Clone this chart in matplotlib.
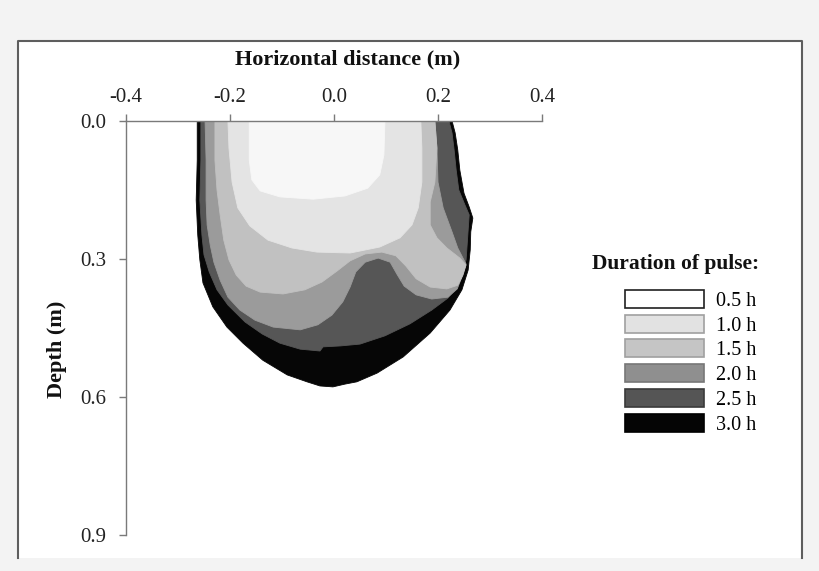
import matplotlib
matplotlib.use("Agg")
import matplotlib.pyplot as plt
from matplotlib.patches import Rectangle, Patch
from matplotlib.lines import Line2D

plt.rcParams['font.family'] = ['Liberation Serif', 'DejaVu Serif']

# ---- data: wetting-front outlines (x in m, depth in m) for each pulse duration ----
durations = ['0.5 h', '1.0 h', '1.5 h', '2.0 h', '2.5 h', '3.0 h']

x_30 = [-0.263, -0.263, -0.265, -0.262, -0.258, -0.252, -0.233, -0.206, -0.175, -0.137,
        -0.090, -0.052, -0.027, -0.002, 0.021, 0.044, 0.083, 0.133, 0.185, 0.223,
        0.246, 0.258, 0.262, 0.263, 0.267, 0.260, 0.250, 0.242, 0.238, 0.233, 0.227]
d_30 = [0.000, 0.085, 0.172, 0.248, 0.302, 0.352, 0.404, 0.448, 0.483, 0.520,
        0.552, 0.567, 0.576, 0.578, 0.572, 0.567, 0.548, 0.513, 0.461, 0.411,
        0.367, 0.324, 0.280, 0.241, 0.211, 0.187, 0.157, 0.107, 0.063, 0.026, 0.000]

x_25 = [-0.256, -0.256, -0.258, -0.254, -0.250, -0.240, -0.225, -0.204, -0.171, -0.138,
        -0.104, -0.065, -0.027, -0.021, 0.012, 0.050, 0.098, 0.146, 0.188, 0.219,
        0.237, 0.246, 0.254, 0.256, 0.258, 0.260, 0.252, 0.240, 0.235, 0.231, 0.227, 0.221]
d_25 = [0.000, 0.085, 0.172, 0.248, 0.291, 0.328, 0.367, 0.400, 0.437, 0.463,
        0.483, 0.496, 0.500, 0.491, 0.489, 0.485, 0.467, 0.441, 0.411, 0.385,
        0.361, 0.335, 0.302, 0.270, 0.237, 0.204, 0.183, 0.150, 0.107, 0.063, 0.026, 0.000]

x_20 = [-0.248, -0.246, -0.246, -0.244, -0.238, -0.231, -0.219, -0.204, -0.181, -0.152,
        -0.117, -0.065, -0.031, -0.004, 0.017, 0.031, 0.042, 0.060, 0.085, 0.108,
        0.121, 0.135, 0.158, 0.188, 0.219, 0.237, 0.246, 0.254, 0.238, 0.227,
        0.210, 0.200, 0.198, 0.194]
d_20 = [0.000, 0.085, 0.172, 0.226, 0.270, 0.307, 0.346, 0.383, 0.411, 0.433,
        0.448, 0.454, 0.443, 0.422, 0.393, 0.361, 0.328, 0.307, 0.298, 0.307,
        0.333, 0.359, 0.378, 0.387, 0.383, 0.365, 0.339, 0.311, 0.276, 0.241,
        0.189, 0.133, 0.059, 0.000]

x_15 = [-0.229, -0.229, -0.225, -0.219, -0.212, -0.202, -0.188, -0.169, -0.142, -0.098,
        -0.056, -0.023, 0.006, 0.031, 0.060, 0.092, 0.119, 0.138, 0.158, 0.185,
        0.217, 0.238, 0.248, 0.254, 0.242, 0.217, 0.198, 0.185, 0.185, 0.194, 0.198, 0.194]
d_15 = [0.000, 0.085, 0.150, 0.204, 0.259, 0.302, 0.335, 0.359, 0.372, 0.376,
        0.367, 0.350, 0.326, 0.304, 0.289, 0.285, 0.293, 0.315, 0.343, 0.361,
        0.365, 0.357, 0.335, 0.313, 0.298, 0.276, 0.254, 0.226, 0.176, 0.133, 0.059, 0.000]

x_10 = [-0.204, -0.202, -0.196, -0.185, -0.162, -0.127, -0.081, -0.033, 0.031, 0.088,
        0.127, 0.150, 0.162, 0.169, 0.169, 0.167]
d_10 = [0.000, 0.059, 0.133, 0.189, 0.228, 0.259, 0.276, 0.285, 0.287, 0.274,
        0.254, 0.226, 0.189, 0.133, 0.059, 0.000]

x_05 = [-0.163, -0.163, -0.158, -0.142, -0.104, -0.040, 0.021, 0.065, 0.088, 0.096, 0.098]
d_05 = [0.000, 0.085, 0.128, 0.152, 0.165, 0.170, 0.163, 0.146, 0.117, 0.074, 0.000]

x_ticks = [-0.4, -0.2, 0.0, 0.2, 0.4]
x_tick_labels = ['-0.4', '-0.2', '0.0', '0.2', '0.4']
y_ticks = [0.0, 0.3, 0.6, 0.9]
y_tick_labels = ['0.0', '0.3', '0.6', '0.9']

# ---- styles ----
fill_colors = {'3.0 h': '#060606', '2.5 h': '#565656', '2.0 h': '#9b9b9b',
               '1.5 h': '#c1c1c1', '1.0 h': '#e4e4e4', '0.5 h': '#f7f7f7'}
legend_faces = ['#ffffff', '#e2e2e2', '#c5c5c5', '#8f8f8f', '#555555', '#050505']
legend_edges = ['#202020', '#a0a0a0', '#a0a0a0', '#777777', '#3a3a3a', '#000000']

W, H = 820, 571
fig = plt.figure(figsize=(W / 100, H / 100), dpi=100, facecolor='#f3f3f3')


def fx(px):
    return px / W


def fy(py):
    return 1 - py / H


# white panel with border
fig.patches.append(Rectangle((fx(18), fy(558)), fx(802) - fx(18), fy(41) - fy(558),
                             transform=fig.transFigure, facecolor='white',
                             edgecolor='none', zorder=-5))
fig.add_artist(Line2D([fx(18), fx(18), fx(802), fx(802)], [fy(558), fy(41), fy(41), fy(558)],
                      transform=fig.transFigure, color='#5e5e5e', lw=1.5, zorder=-4))

ax = fig.add_axes([fx(126), fy(535), fx(542) - fx(126), fy(121) - fy(535)])
ax.set_facecolor('none')
ax.set_zorder(2)

fronts = [('3.0 h', x_30, d_30), ('2.5 h', x_25, d_25), ('2.0 h', x_20, d_20),
          ('1.5 h', x_15, d_15), ('1.0 h', x_10, d_10), ('0.5 h', x_05, d_05)]
for name, xs, ds in fronts:
    ax.fill(xs, ds, color=fill_colors[name], lw=0.6, ec=fill_colors[name],
            joinstyle='round', zorder=1)

ax.set_xlim(-0.4, 0.4)
ax.set_ylim(0.9, 0.0)
ax.xaxis.tick_top()
ax.set_xticks(x_ticks)
ax.set_xticklabels(x_tick_labels)
ax.set_yticks(y_ticks)
ax.set_yticklabels(y_tick_labels)
for s in ['right', 'bottom']:
    ax.spines[s].set_visible(False)
for s in ['top', 'left']:
    ax.spines[s].set_color('#7a7a7a')
    ax.spines[s].set_linewidth(1.0)
    ax.spines[s].set_zorder(3)
ax.tick_params(axis='x', direction='out', length=5, width=1, color='#7a7a7a',
               labelsize=15, pad=5, labelcolor='#222222')
ax.tick_params(axis='y', direction='out', length=5, width=1, color='#7a7a7a',
               labelsize=15, pad=9, labelcolor='#222222')

fig.text(fx(348), fy(59), 'Horizontal distance (m)', ha='center', va='center',
         fontsize=16, fontweight='bold', color='#111111')
fig.text(fx(57), fy(349), 'Depth (m)', ha='center', va='center', rotation=90,
         fontsize=16, fontweight='bold', color='#111111')

# legend
fig.text(fx(592), fy(264), 'Duration of pulse:', ha='left', va='center',
         fontsize=15.5, fontweight='bold', color='#111111')
handles = [Patch(facecolor=f, edgecolor=e, lw=1.2) for f, e in zip(legend_faces, legend_edges)]
fig.legend(handles, durations, loc='upper left', bbox_to_anchor=(fx(625), fy(290)),
           frameon=False, borderpad=0, borderaxespad=0, handlelength=3.9,
           handleheight=1.0, handletextpad=0.6, labelspacing=0.19,
           prop={'family': ['Liberation Serif'], 'size': 14.5})

fig.savefig('out.png', dpi=100, facecolor=fig.get_facecolor())
